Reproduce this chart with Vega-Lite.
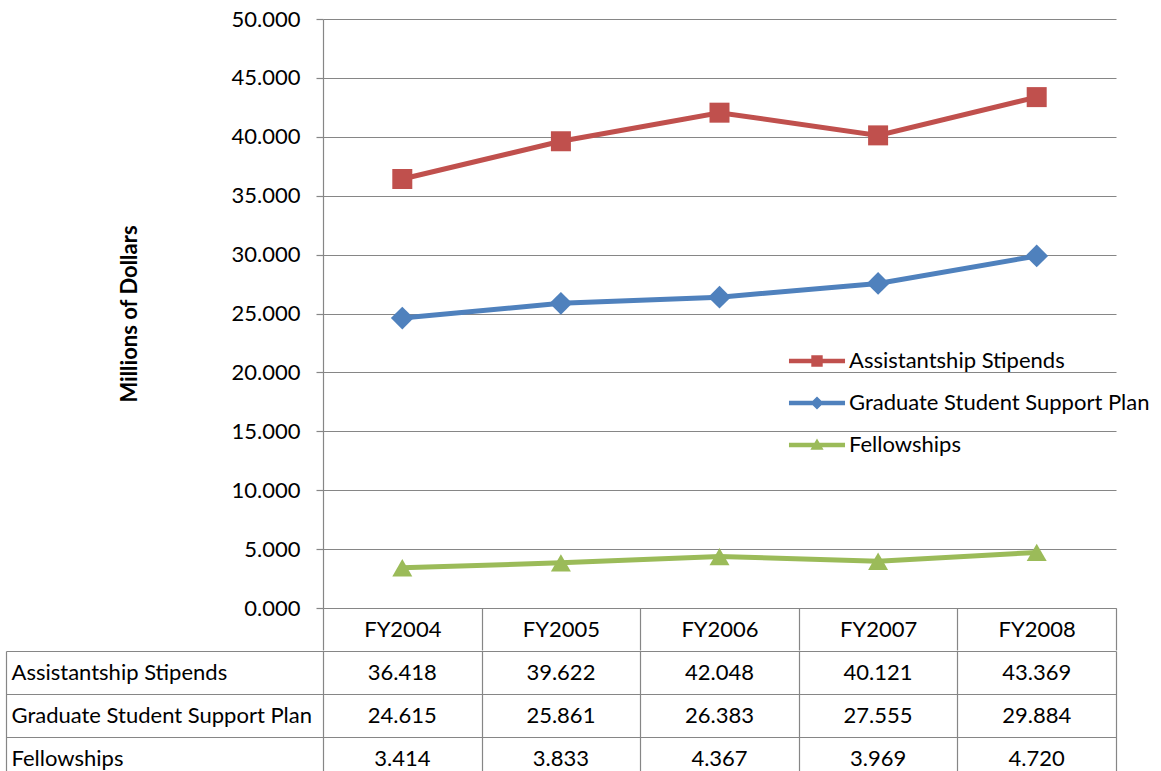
{
  "$schema": "https://vega.github.io/schema/vega-lite/v6.json",
  "padding": {"left": 5, "top": 8, "right": 0, "bottom": 0},
  "background": "white",
  "config": {
    "font": "Lato",
    "view": {"stroke": null},
    "concat": {"spacing": 0},
    "axis": {"gridColor": "#868686", "domainColor": "#868686", "tickColor": "#868686", "labelColor": "#000000", "gridOpacity": 1, "gridWidth": 1.2, "domainWidth": 1.2, "tickWidth": 1.2}
  },
  "spacing": -12,
  "datasets": {
    "vals": [
      {"series": "Assistantship Stipends", "year": "FY2004", "value": 36.418},
      {"series": "Assistantship Stipends", "year": "FY2005", "value": 39.622},
      {"series": "Assistantship Stipends", "year": "FY2006", "value": 42.048},
      {"series": "Assistantship Stipends", "year": "FY2007", "value": 40.121},
      {"series": "Assistantship Stipends", "year": "FY2008", "value": 43.369},
      {"series": "Graduate Student Support Plan", "year": "FY2004", "value": 24.615},
      {"series": "Graduate Student Support Plan", "year": "FY2005", "value": 25.861},
      {"series": "Graduate Student Support Plan", "year": "FY2006", "value": 26.383},
      {"series": "Graduate Student Support Plan", "year": "FY2007", "value": 27.555},
      {"series": "Graduate Student Support Plan", "year": "FY2008", "value": 29.884},
      {"series": "Fellowships", "year": "FY2004", "value": 3.414},
      {"series": "Fellowships", "year": "FY2005", "value": 3.833},
      {"series": "Fellowships", "year": "FY2006", "value": 4.367},
      {"series": "Fellowships", "year": "FY2007", "value": 3.969},
      {"series": "Fellowships", "year": "FY2008", "value": 4.720}
    ]
  },
  "vconcat": [
    {
      "width": 793,
      "height": 589,
      "data": {"name": "vals"},
      "encoding": {
        "x": {"field": "year", "type": "ordinal", "bandPosition": 0.5,
          "scale": {"type": "band", "paddingInner": 0, "paddingOuter": 0, "domain": ["FY2004", "FY2005", "FY2006", "FY2007", "FY2008"]},
          "axis": {"title": null, "labelAngle": 0, "tickBand": "extent", "tickSize": 42, "labelPadding": -21, "labelBaseline": "middle", "labelFontSize": 22, "grid": false}},
        "y": {"field": "value", "type": "quantitative",
          "scale": {"domain": [0, 50], "nice": false, "zero": true},
          "axis": {"title": "Millions of Dollars", "values": [0, 5, 10, 15, 20, 25, 30, 35, 40, 45, 50], "format": ".3f", "tickSize": 7, "labelPadding": 16, "labelFontSize": 22, "titleFontSize": 22, "titleFontWeight": "bold", "titleColor": "#000000", "titlePadding": 90, "grid": true}}
      },
      "layer": [
        {
          "transform": [{"filter": "datum.series === 'Assistantship Stipends'"}],
          "mark": {"type": "line", "strokeWidth": 5, "color": "#C0504D"}
        },
        {
          "transform": [{"filter": "datum.series === 'Graduate Student Support Plan'"}],
          "mark": {"type": "line", "strokeWidth": 5, "color": "#4F81BD"}
        },
        {
          "transform": [{"filter": "datum.series === 'Fellowships'"}],
          "mark": {"type": "line", "strokeWidth": 5, "color": "#9BBB59"}
        },
        {
          "transform": [{"filter": "datum.series === 'Assistantship Stipends'"}],
          "mark": {"type": "point", "shape": "square", "filled": true, "size": 400, "opacity": 1, "color": "#C0504D"}
        },
        {
          "transform": [{"filter": "datum.series === 'Graduate Student Support Plan'"}],
          "mark": {"type": "point", "shape": "diamond", "filled": true, "size": 520, "opacity": 1, "color": "#4F81BD"}
        },
        {
          "transform": [{"filter": "datum.series === 'Fellowships'"}],
          "mark": {"type": "point", "shape": "triangle-up", "filled": true, "size": 400, "opacity": 1, "color": "#9BBB59"}
        },
        {
          "transform": [{"filter": "datum.value < 0"}],
          "mark": {"type": "point", "filled": true, "opacity": 1},
          "encoding": {
            "color": {"field": "series", "type": "nominal",
              "scale": {"domain": ["Assistantship Stipends", "Graduate Student Support Plan", "Fellowships"], "range": ["#C0504D", "#4F81BD", "#9BBB59"]},
              "legend": {"title": null, "orient": "none", "legendX": 483, "legendY": 331, "symbolSize": 144, "symbolStrokeWidth": 0, "labelFontSize": 22, "labelColor": "#000000", "labelOffset": 21, "rowPadding": 20, "padding": 0, "labelLimit": 400, "symbolOpacity": 1}},
            "shape": {"field": "series", "type": "nominal",
              "scale": {"domain": ["Assistantship Stipends", "Graduate Student Support Plan", "Fellowships"],
                "range": ["M-4.67,-0.38H4.67V0.38H-4.67Z M-0.95,-0.95H0.95V0.95H-0.95Z", "M-4.67,-0.38H4.67V0.38H-4.67Z M0,-1.1L1.1,0L0,1.1L-1.1,0Z", "M-4.67,-0.38H4.67V0.38H-4.67Z M0,-1.1L1.1,0.8H-1.1Z"]},
              "legend": {"title": null, "orient": "none", "legendX": 483, "legendY": 331, "symbolSize": 144, "symbolStrokeWidth": 0, "labelFontSize": 22, "labelColor": "#000000", "labelOffset": 21, "rowPadding": 20, "padding": 0, "labelLimit": 400, "symbolOpacity": 1}}
          }
        }
      ]
    },
    {
      "width": 793,
      "height": 129,
      "data": {"name": "vals"},
      "mark": {"type": "text", "fontSize": 22, "color": "#000000"},
      "encoding": {
        "x": {"field": "year", "type": "ordinal", "bandPosition": 0.5,
          "scale": {"type": "band", "paddingInner": 0, "paddingOuter": 0, "domain": ["FY2004", "FY2005", "FY2006", "FY2007", "FY2008"]},
          "axis": {"title": null, "labels": false, "ticks": false, "domain": false, "grid": true, "tickBand": "extent"}},
        "y": {"field": "series", "type": "nominal", "bandPosition": 0.5,
          "scale": {"type": "band", "paddingInner": 0, "paddingOuter": 0, "domain": ["Assistantship Stipends", "Graduate Student Support Plan", "Fellowships"]},
          "axis": {"title": null, "offset": 317, "tickBand": "extent", "tickSize": -1110, "labelAlign": "left", "labelBaseline": "middle", "labelPadding": 1105, "labelFontSize": 22, "labelLimit": 400, "grid": false}},
        "text": {"field": "value", "type": "quantitative", "format": ".3f"}
      }
    }
  ]
}
